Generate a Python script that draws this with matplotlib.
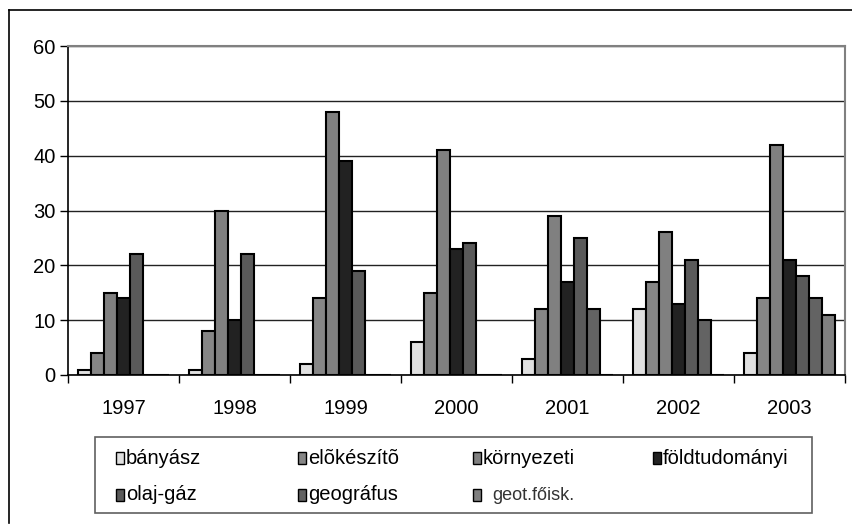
import matplotlib
matplotlib.use("Agg")
import matplotlib.pyplot as plt
from matplotlib.patches import Rectangle
from matplotlib.lines import Line2D
import numpy as np

plt.rcParams['font.family'] = ['Liberation Sans', 'DejaVu Sans']

years = ['1997', '1998', '1999', '2000', '2001', '2002', '2003']
series_names = ['bányász', 'elõkészítõ', 'környezeti', 'földtudományi',
                'olaj-gáz', 'geográfus', 'geot.főisk.']
banyasz = [1, 1, 2, 6, 3, 12, 4]
elokeszito = [4, 8, 14, 15, 12, 17, 14]
kornyezeti = [15, 30, 48, 41, 29, 26, 42]
foldtudomanyi = [14, 10, 39, 23, 17, 13, 21]
olajgaz = [22, 22, 19, 24, 25, 21, 18]
geografus = [0, 0, 0, 0, 12, 10, 14]
geotfoisk = [0, 0, 0, 0, 0, 0, 11]
series = [banyasz, elokeszito, kornyezeti, foldtudomanyi, olajgaz, geografus, geotfoisk]
colors = ['#e0e0e0', '#868686', '#808080', '#222222', '#5a5a5a', '#636363', '#808080']

W, H = 853, 525
fig = plt.figure(figsize=(W / 100, H / 100), dpi=100)

def fx(px):
    return px / W

def fy(py):
    return 1 - py / H

ax = fig.add_axes([fx(68), fy(375), fx(845) - fx(68), fy(46) - fy(375)])

n = len(series)
bw = 1.0 / (n + 1.5)
x = np.arange(len(years))
for i, (vals, c) in enumerate(zip(series, colors)):
    offs = (i - (n - 1) / 2) * bw
    ax.bar(x + offs, vals, width=bw, color=c, edgecolor='black',
           linewidth=1.5, zorder=3)

ax.set_xlim(-0.5, len(years) - 0.5)
ax.set_ylim(0, 60)
ax.set_yticks(range(0, 61, 10))
ax.yaxis.grid(True, color='#222222', linewidth=1.0, zorder=0)
ax.set_axisbelow(True)

ax.set_xticks(x)
ax.set_xticklabels(years)
ax.set_xticks(np.arange(len(years) + 1) - 0.5, minor=True)
ax.tick_params(axis='x', which='major', length=0, pad=17, labelsize=14.5)
ax.tick_params(axis='x', which='minor', length=6, width=1, color='black', direction='out')
ax.tick_params(axis='y', which='major', length=6, width=1, pad=3, labelsize=14.5, direction='out')

for s in ['left', 'bottom']:
    ax.spines[s].set_color('black')
    ax.spines[s].set_linewidth(1.2)
for s in ['top', 'right']:
    ax.spines[s].set_color('#808080')
    ax.spines[s].set_linewidth(1.5)
ax.spines['bottom'].set_zorder(4)

# outer chart border
fig.add_artist(Line2D([fx(9), fx(9)], [fy(10), fy(523)], color='black', lw=1.2))
fig.add_artist(Line2D([fx(9), 1.0], [fy(10), fy(10)], color='black', lw=1.2))

# legend (manual layout)
fig.add_artist(Rectangle((fx(95), fy(513)), fx(812) - fx(95), fy(437) - fy(513),
                         facecolor='white', edgecolor='#606060', lw=1.2,
                         transform=fig.transFigure))
col_x = [116, 298, 473, 653]
row_y = [458, 495]
for i, (name, c) in enumerate(zip(series_names, colors)):
    r, k = divmod(i, 4)
    mx, my = col_x[k], row_y[r]
    fig.add_artist(Rectangle((fx(mx), fy(my + 6)), fx(8), 12 / H,
                             facecolor=c, edgecolor='black', lw=1.0,
                             transform=fig.transFigure))
    if name == 'geot.főisk.':
        fig.text(fx(mx + 19), fy(my), name, fontsize=13, color='#333333',
                 va='center', ha='left')
    else:
        fig.text(fx(mx + 10), fy(my), name, fontsize=14.5, color='black',
                 va='center', ha='left')

fig.savefig('out.png', dpi=100)
